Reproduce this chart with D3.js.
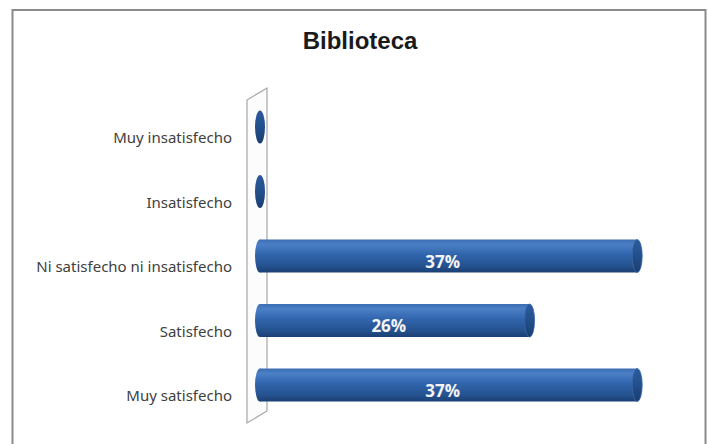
<!DOCTYPE html>
<html>
<head>
<meta charset="utf-8">
<script src="https://cdn.jsdelivr.net/npm/d3@7"></script>
<style>
  body { margin: 0; background: #fff; }
  .cat-label { font-family: "Noto Sans", sans-serif; font-size: 15px; fill: #404040; }
  .val-label { font-family: "Open Sans", sans-serif; font-size: 17px; font-weight: bold; fill: #f4f4f4; }
  .title { font-family: "Liberation Sans", Arial, sans-serif; font-size: 24px; font-weight: bold; fill: #1a1a1a; }
</style>
</head>
<body>
<svg id="chart" width="708" height="444"></svg>
<script>
/*
3D CYLINDER BAR CHART: BIBLIOTECA
*/

const title = "Biblioteca";
const categories = [
  "Muy insatisfecho",
  "Insatisfecho",
  "Ni satisfecho ni insatisfecho",
  "Satisfecho",
  "Muy satisfecho",
];
const values = [0, 0, 0.368, 0.263, 0.368];

const chart = d3.select("#chart");

// hidden value axis, category positions from the picture
const x = d3.scaleLinear().domain([0, 0.4]).range([260, 670]);
const y = d3.scalePoint().domain(categories).range([127, 385]);
const barHeight = 33;
const capRx = 5;

function addGradients(defs) {
  // shading for the cylinder body
  const body = defs
    .append("linearGradient")
    .attr("id", "cyl-body")
    .attr("x1", 0).attr("y1", 0).attr("x2", 0).attr("y2", 1);
  [
    [0, "#3c6db3"],
    [0.15, "#4b80c6"],
    [0.45, "#3165ad"],
    [0.8, "#25528f"],
    [1, "#1b3f74"],
  ].forEach((s) => body.append("stop").attr("offset", s[0]).attr("stop-color", s[1]));

  // shading for the end caps
  const cap = defs
    .append("linearGradient")
    .attr("id", "cyl-cap")
    .attr("x1", 0).attr("y1", 0).attr("x2", 0).attr("y2", 1);
  [
    [0, "#2c5a9c"],
    [0.5, "#234f8c"],
    [1, "#1a3d70"],
  ].forEach((s) => cap.append("stop").attr("offset", s[0]).attr("stop-color", s[1]));
}

function drawFrame() {
  chart
    .append("rect")
    .attr("x", 12.5)
    .attr("y", 10)
    .attr("width", 693)
    .attr("height", 450)
    .attr("fill", "#fff")
    .attr("stroke", "#8a8a8a")
    .attr("stroke-width", 2);

  chart
    .append("text")
    .attr("class", "title")
    .attr("x", 360)
    .attr("y", 49)
    .attr("text-anchor", "middle")
    .text(title);
}

function drawWall() {
  // the thin 3D back wall behind the bars
  const wall = [
    [247, 100],
    [267, 88],
    [267, 411],
    [247, 423],
  ];
  chart
    .append("path")
    .attr("d", d3.line()(wall) + "Z")
    .attr("fill", "#fcfcfc")
    .attr("stroke", "#a6a6a6")
    .attr("stroke-width", 1.2);
}

function drawBars() {
  const bars = chart
    .append("g")
    .selectAll()
    .data(categories.map((c, i) => ({ cat: c, value: values[i] })))
    .enter()
    .append("g");

  // cylinder body
  bars
    .filter((d) => d.value > 0)
    .append("rect")
    .attr("x", x(0))
    .attr("y", (d) => y(d.cat) - barHeight / 2)
    .attr("width", (d) => x(d.value) - x(0))
    .attr("height", barHeight)
    .attr("fill", "url(#cyl-body)");

  // rounded back end
  bars
    .append("ellipse")
    .attr("cx", x(0))
    .attr("cy", (d) => y(d.cat))
    .attr("rx", capRx)
    .attr("ry", barHeight / 2)
    .attr("fill", (d) => (d.value > 0 ? "url(#cyl-body)" : "url(#cyl-cap)"));

  // front cap
  bars
    .filter((d) => d.value > 0)
    .append("ellipse")
    .attr("cx", (d) => x(d.value))
    .attr("cy", (d) => y(d.cat))
    .attr("rx", capRx)
    .attr("ry", barHeight / 2)
    .attr("fill", "url(#cyl-cap)")
    .attr("stroke", "#3a68a8")
    .attr("stroke-width", 0.8);

  // percent labels
  bars
    .filter((d) => d.value > 0)
    .append("text")
    .attr("class", "val-label")
    .attr("x", (d) => (x(0) + x(d.value)) / 2 - 6)
    .attr("y", (d) => y(d.cat) + 5)
    .attr("text-anchor", "middle")
    .attr("dominant-baseline", "central")
    .text((d) => Math.round(d.value * 100) + "%");
}

function drawLabels() {
  chart
    .append("g")
    .selectAll()
    .data(categories)
    .enter()
    .append("text")
    .attr("class", "cat-label")
    .attr("x", 232)
    .attr("y", (d) => y(d) + 10)
    .attr("text-anchor", "end")
    .attr("dominant-baseline", "central")
    .text((d) => d);
}

addGradients(chart.append("defs"));
drawFrame();
drawWall();
drawBars();
drawLabels();
</script>
</body>
</html>
